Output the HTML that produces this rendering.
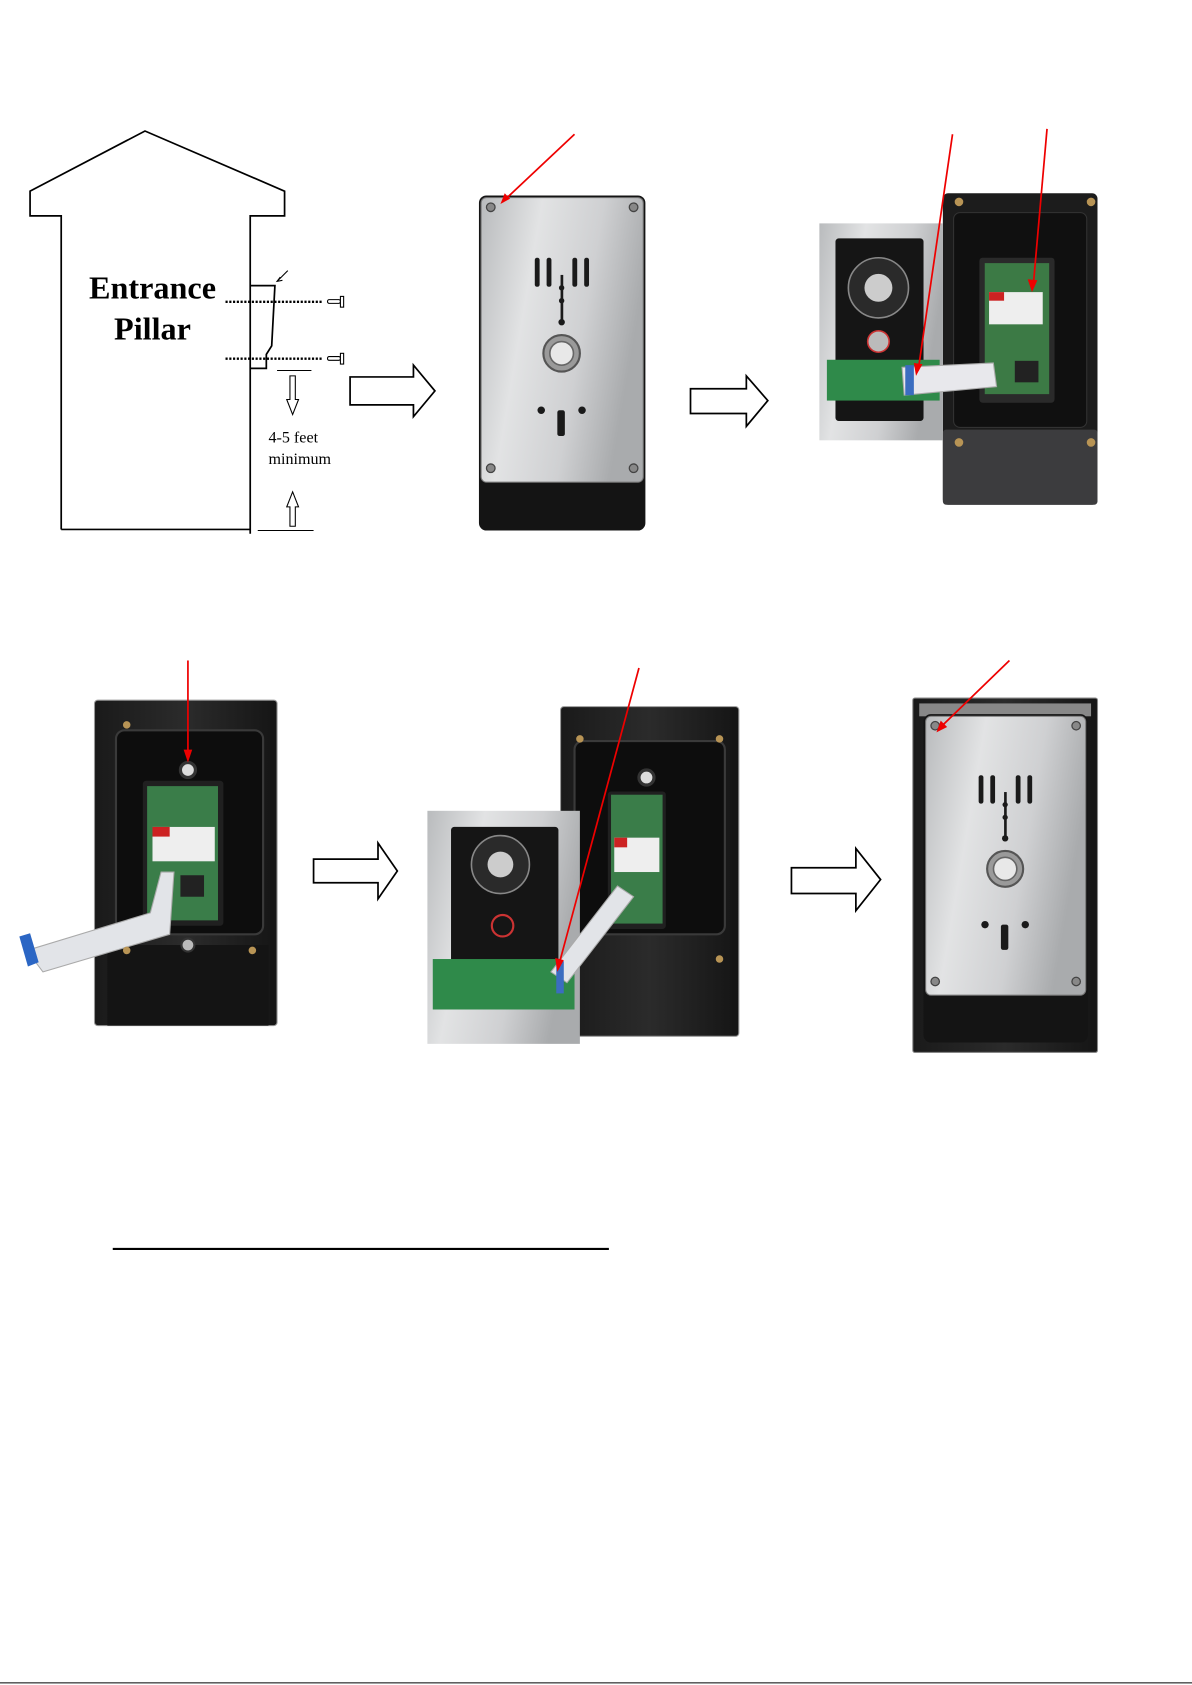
<!DOCTYPE html>
<html><head><meta charset="utf-8"><style>
html,body{margin:0;padding:0;background:#fff;}
svg{display:block;}
</style></head><body>
<svg width="1192" height="1685" viewBox="0 0 1110 1569" preserveAspectRatio="none" xmlns="http://www.w3.org/2000/svg">
<defs>
<linearGradient id="steel" x1="0" y1="0" x2="1" y2="0.3">
<stop offset="0" stop-color="#b9bbbd"/><stop offset="0.35" stop-color="#e2e3e4"/><stop offset="0.7" stop-color="#cfd0d2"/><stop offset="1" stop-color="#a9abad"/>
</linearGradient>
<linearGradient id="darkbox" x1="0" y1="0" x2="1" y2="0">
<stop offset="0" stop-color="#1a1a1a"/><stop offset="0.5" stop-color="#2b2b2b"/><stop offset="1" stop-color="#151515"/>
</linearGradient>
<g id="front">
<rect x="0" y="0" width="155" height="312" rx="7" fill="#141414"/>
<rect x="2" y="2" width="151" height="265" rx="5" fill="url(#steel)" stroke="#777" stroke-width="1"/>
<g fill="#888" stroke="#444" stroke-width="1.2">
<circle cx="11" cy="11" r="4"/><circle cx="144" cy="11" r="4"/><circle cx="11" cy="254" r="4"/><circle cx="144" cy="254" r="4"/>
</g>
<g fill="#1a1a1a">
<rect x="52" y="58" width="4.5" height="27" rx="2"/><rect x="63" y="58" width="4.5" height="27" rx="2"/>
<rect x="87" y="58" width="4.5" height="27" rx="2"/><rect x="98" y="58" width="4.5" height="27" rx="2"/>
<rect x="76" y="74" width="2.5" height="44"/><circle cx="77" cy="86" r="2.5"/><circle cx="77" cy="98" r="2.5"/><circle cx="77" cy="118" r="3"/>
<circle cx="58" cy="200" r="3.5"/><circle cx="96" cy="200" r="3.5"/><rect x="73" y="200" width="7" height="24" rx="2"/>
</g>
<circle cx="77" cy="147" r="17" fill="#9a9a9a" stroke="#555" stroke-width="2"/>
<circle cx="77" cy="147" r="11" fill="#e8e8e8" stroke="#666" stroke-width="1.5"/>
</g>
</defs>

<!-- Pillar drawing -->
<g fill="none" stroke="#000" stroke-width="1.6">
<polyline points="57,493 57,201 28,201 28,178 135,122 265,178 265,201 233,201 233,497"/>
<line x1="57" y1="493" x2="233" y2="493"/>
<polyline points="233,266 256,266 253,322 248,330 248,343 233,343"/>
<line x1="258" y1="345" x2="290" y2="345" stroke-width="1"/>
<line x1="240" y1="494" x2="292" y2="494" stroke-width="1"/>
<line x1="268" y1="252" x2="258" y2="262" stroke-width="1"/>
</g>
<polyline points="261,258 258,262 263,261" fill="none" stroke="#000" stroke-width="1"/>
<g stroke="#000" stroke-width="2.2" stroke-dasharray="2,1.5">
<line x1="210" y1="281" x2="300" y2="281"/><line x1="210" y1="334" x2="300" y2="334"/>
</g>
<g fill="#fff" stroke="#000" stroke-width="1">
<rect x="305" y="279" width="12" height="3.5" rx="1.5"/><rect x="317" y="276" width="3" height="10"/>
<rect x="305" y="332" width="12" height="3.5" rx="1.5"/><rect x="317" y="329" width="3" height="10"/>
<polygon points="270,350 275,350 275,372 278,372 272.5,386 267,372 270,372"/>
<polygon points="270,490 275,490 275,472 278,472 272.5,458 267,472 270,472"/>
</g>
<text x="142" y="278" text-anchor="middle" font-family="Liberation Serif, serif" font-weight="bold" font-size="30">Entrance</text>
<text x="142" y="316" text-anchor="middle" font-family="Liberation Serif, serif" font-weight="bold" font-size="30">Pillar</text>
<text x="250" y="412" font-family="Liberation Serif, serif" font-size="15">4-5 feet</text>
<text x="250" y="432" font-family="Liberation Serif, serif" font-size="15">minimum</text>

<!-- hollow arrows -->
<g fill="#fff" stroke="#000" stroke-width="1.6">
<polygon points="326,351 385,351 385,340 405,364 385,388 385,377 326,377"/>
<polygon points="643,362 695,362 695,350 715,373 695,397 695,385 643,385"/>
<polygon points="292,800 352,800 352,785 370,811 352,837 352,822 292,822"/>
<polygon points="737,808 797,808 797,790 820,819 797,848 797,832 737,832"/>
</g>

<!-- photo 1 front -->
<use href="#front" transform="translate(446,182)"/>
<line x1="535" y1="125" x2="468" y2="188" stroke="#e00" stroke-width="1.6"/>
<polygon points="466,190 470,180 475,185" fill="#e00"/>

<!-- photo 2: open -->
<rect x="878" y="180" width="144" height="290" rx="5" fill="#1c1c1c"/>
<rect x="878" y="400" width="144" height="70" rx="3" fill="#3c3c3e"/>
<rect x="888" y="198" width="124" height="200" rx="6" fill="#101010" stroke="#333"/>
<rect x="912" y="240" width="70" height="135" rx="3" fill="#2a2a2a"/>
<rect x="917" y="245" width="60" height="122" fill="#3c7a45"/>
<rect x="921" y="272" width="50" height="30" fill="#eee"/><rect x="921" y="272" width="14" height="8" fill="#c22"/>
<rect x="945" y="336" width="22" height="20" fill="#222"/>
<g fill="#b89455"><circle cx="893" cy="188" r="4"/><circle cx="1016" cy="188" r="4"/><circle cx="893" cy="412" r="4"/><circle cx="1016" cy="412" r="4"/></g>
<rect x="763" y="208" width="115" height="202" fill="url(#steel)"/>
<rect x="778" y="222" width="82" height="170" rx="3" fill="#151515"/>
<circle cx="818" cy="268" r="28" fill="#2a2a2a" stroke="#888" stroke-width="1.5"/>
<circle cx="818" cy="268" r="13" fill="#ccc"/>
<circle cx="818" cy="318" r="10" fill="#bbb" stroke="#c33" stroke-width="1.5"/>
<rect x="770" y="335" width="105" height="38" fill="#2f8a4a"/>
<polygon points="840,342 925,338 928,360 842,368" fill="#e8e8ec" stroke="#aaa"/>
<rect x="843" y="340" width="8" height="28" fill="#3b6dc0"/>
<line x1="887" y1="125" x2="855" y2="345" stroke="#e00" stroke-width="1.6"/>
<polygon points="853,350 851,338 859,339" fill="#e00"/>
<line x1="975" y1="120" x2="962" y2="268" stroke="#e00" stroke-width="1.6"/>
<polygon points="961,272 957,260 966,261" fill="#e00"/>

<!-- row 2 left -->
<rect x="88" y="652" width="170" height="303" rx="3" fill="url(#darkbox)" stroke="#999"/>
<rect x="108" y="680" width="137" height="190" rx="8" fill="#0d0d0d" stroke="#3a3a3a" stroke-width="2"/>
<rect x="100" y="880" width="150" height="75" fill="#141414"/>
<circle cx="175" cy="717" r="7" fill="#ddd" stroke="#333" stroke-width="3"/>
<rect x="133" y="727" width="75" height="135" rx="3" fill="#202020"/>
<rect x="137" y="732" width="66" height="125" fill="#3a7d49"/>
<rect x="142" y="770" width="58" height="32" fill="#eee"/><rect x="142" y="770" width="16" height="9" fill="#c22"/>
<rect x="168" y="815" width="22" height="20" fill="#222"/>
<polygon points="150,812 162,812 158,870 40,905 25,885 140,850" fill="#e2e4e8" stroke="#aaa"/>
<polygon points="18,872 28,869 36,896 26,900" fill="#2b66c4"/>
<circle cx="175" cy="880" r="6" fill="#bbb" stroke="#333" stroke-width="2"/>
<g fill="#b89455"><circle cx="118" cy="675" r="3.5"/><circle cx="118" cy="885" r="3.5"/><circle cx="235" cy="885" r="3.5"/></g>
<line x1="175" y1="615" x2="175" y2="705" stroke="#e00" stroke-width="1.6"/>
<polygon points="175,710 171,698 179,698" fill="#e00"/>

<!-- row 2 middle -->
<rect x="522" y="658" width="166" height="307" rx="3" fill="url(#darkbox)" stroke="#999"/>
<rect x="535" y="690" width="140" height="180" rx="8" fill="#0d0d0d" stroke="#3a3a3a" stroke-width="2"/>
<circle cx="602" cy="724" r="7" fill="#ddd" stroke="#333" stroke-width="3"/>
<rect x="566" y="737" width="54" height="128" rx="3" fill="#202020"/>
<rect x="569" y="740" width="48" height="120" fill="#3a7d49"/>
<rect x="572" y="780" width="42" height="32" fill="#eee"/><rect x="572" y="780" width="12" height="9" fill="#c22"/>
<g fill="#b89455"><circle cx="540" cy="688" r="3.5"/><circle cx="670" cy="688" r="3.5"/><circle cx="670" cy="893" r="3.5"/></g>
<rect x="398" y="755" width="142" height="217" fill="url(#steel)"/>
<rect x="420" y="770" width="100" height="162" rx="3" fill="#151515"/>
<circle cx="466" cy="805" r="27" fill="#2a2a2a" stroke="#888" stroke-width="1.5"/>
<circle cx="466" cy="805" r="12" fill="#ccc"/>
<circle cx="468" cy="862" r="10" fill="none" stroke="#c33" stroke-width="2"/>
<rect x="403" y="893" width="132" height="47" fill="#2f8a4a"/>
<polygon points="513,905 575,825 590,835 528,915" fill="#e2e4e8" stroke="#aaa"/>
<rect x="518" y="895" width="7" height="30" fill="#3b6dc0"/>
<line x1="595" y1="622" x2="520" y2="900" stroke="#e00" stroke-width="1.6"/>
<polygon points="519,905 517,892 525,894" fill="#e00"/>

<!-- row 2 right -->
<rect x="850" y="650" width="172" height="330" rx="2" fill="url(#darkbox)" stroke="#888"/>
<rect x="856" y="655" width="160" height="12" fill="#888"/>
<use href="#front" transform="translate(860,665) scale(0.987,0.98)"/>
<line x1="940" y1="615" x2="875" y2="678" stroke="#e00" stroke-width="1.6"/>
<polygon points="872,682 876,671 882,677" fill="#e00"/>

<!-- underline and bottom -->
<line x1="105" y1="1163" x2="567" y2="1163" stroke="#000" stroke-width="2"/>
<line x1="0" y1="1567" x2="1110" y2="1567" stroke="#000" stroke-width="1"/>
</svg>
</body></html>
